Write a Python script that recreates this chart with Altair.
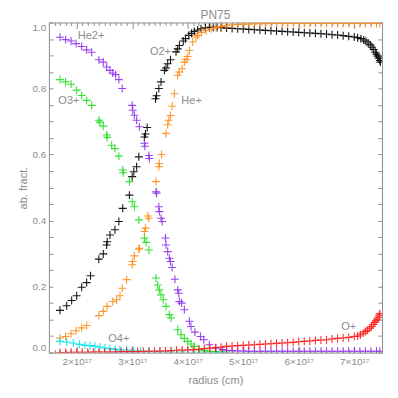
import altair as alt
import pandas as pd

# ---------------- data (radius in units of 1e17 cm, abundance fraction) ----------------
o2_r = [1.70,1.82,1.91,2.00,2.09, 2.18,2.25,2.40,2.48,2.54, 2.55,2.60,2.69,2.76,2.83,
        2.95,3.00,3.03,3.08,3.12, 3.22,3.24,3.27,3.42,3.44, 3.48,3.52,3.58,3.61,3.64,
        3.69,3.79,3.82,3.85,3.92, 3.96,4.02,4.07,4.12,4.18, 4.24,4.32,4.39,4.46,4.53,
        4.60,4.70,4.80,4.90,5.00, 5.10,5.20,5.30,5.40,5.50,5.60,5.70,5.80,5.90,6.00,
        6.10,6.20,6.30,6.40,6.50,6.60,6.70,6.80,6.90,7.00, 7.06,7.12,7.17,7.21,7.25,
        7.29,7.32,7.35,7.38,7.40, 7.42,7.44,7.46,7.47]
o2_f = [0.128,0.142,0.158,0.172,0.198, 0.212,0.233,0.283,0.299,0.326, 0.336,0.356,0.372,0.397,0.437,
        0.477,0.533,0.548,0.563,0.593, 0.653,0.662,0.682,0.769,0.778, 0.800,0.820,0.855,0.862,0.875,
        0.887,0.911,0.920,0.930,0.944, 0.951,0.961,0.967,0.973,0.977, 0.981,0.984,0.985,0.985,0.985,
        0.984,0.983,0.982,0.981,0.980, 0.979,0.978,0.977,0.976,0.975,0.974,0.973,0.972,0.971,0.970,
        0.969,0.968,0.967,0.966,0.965,0.963,0.962,0.960,0.958,0.956, 0.954,0.951,0.947,0.943,0.938,
        0.932,0.925,0.918,0.910,0.904, 0.898,0.892,0.885,0.880]

he1_r = [1.70,1.80,1.90,1.99,2.09, 2.18,2.40,2.48,2.55,2.65, 2.72,2.78,2.82,2.90,3.00,
         3.01,3.04,3.12,3.13,3.22, 3.24,3.28,3.30,3.43,3.48, 3.49,3.53,3.61,3.64,3.66,
         3.69,3.72,3.76,3.82,3.85, 3.90,3.94,3.97,4.00,4.03, 4.09,4.15,4.18,4.25,4.33,
         4.42,4.51,4.60,4.69,4.80, 4.90,5.00,5.10,5.20,5.30,5.40,5.50,5.60,5.70,5.80,
         5.90,6.00,6.10,6.20,6.30,6.40,6.50,6.60,6.70,6.80, 6.90,7.00,7.10,7.20,7.30,
         7.40,7.46]
he1_f = [0.044,0.049,0.057,0.066,0.075, 0.082,0.112,0.125,0.140,0.155, 0.160,0.172,0.195,0.221,0.266,
         0.276,0.293,0.313,0.316,0.367, 0.377,0.414,0.407,0.518,0.563, 0.573,0.600,0.664,0.690,0.704,
         0.718,0.746,0.784,0.840,0.850, 0.860,0.880,0.888,0.897,0.915, 0.941,0.956,0.961,0.970,0.976,
         0.981,0.985,0.988,0.991,0.993, 0.994,0.995,0.995,0.996,0.996,0.996,0.997,0.997,0.997,0.997,
         0.997,0.997,0.997,0.997,0.997,0.997,0.997,0.997,0.997,0.997, 0.997,0.997,0.997,0.997,0.997,
         0.997,0.997]

o3_r = [1.70,1.80,1.90,2.00,2.09, 2.18,2.27,2.40,2.42,2.48, 2.54,2.55,2.63,2.69,2.76,
        2.83,2.84,2.95,3.00,3.04, 3.12,3.22,3.25,3.30,3.43, 3.46,3.49,3.52,3.56,3.61,
        3.67,3.70,3.82,3.88,3.94, 4.00,4.06,4.12,4.21,4.30, 4.40,4.50,4.60,4.70]
o3_f = [0.827,0.820,0.813,0.795,0.779, 0.764,0.749,0.704,0.698,0.686, 0.659,0.652,0.628,0.618,0.595,
        0.553,0.545,0.518,0.457,0.442, 0.402,0.347,0.334,0.311,0.226, 0.205,0.190,0.175,0.160,0.140,
        0.115,0.105,0.069,0.054,0.043, 0.034,0.026,0.019,0.009,0.006, 0.004,0.003,0.002,0.002]

o4_r = [1.70,1.82,1.94,2.05,2.15,2.24,2.33,2.42,2.51,2.60,2.69,2.78,2.90,3.01,3.15,3.31,
        3.50,3.70,3.90,4.10,4.30,4.50]
o4_f = [0.034,0.032,0.029,0.025,0.022,0.021,0.019,0.017,0.014,0.012,0.010,0.009,0.008,0.007,
        0.005,0.004,0.003,0.002,0.002,0.001,0.001,0.001]

he2_r = [1.70,1.80,1.90,1.99,2.09, 2.18,2.27,2.40,2.48,2.54, 2.60,2.65,2.70,2.76,2.82,
         3.00,3.01,3.04,3.08,3.13, 3.22,3.23,3.30,3.31,3.43, 3.44,3.48,3.49,3.52,3.54,
         3.60,3.61,3.64,3.67,3.69, 3.72,3.77,3.82,3.84,3.85, 3.89,3.94,4.03,4.06,4.13,
         4.23,4.29,4.39,4.51,4.63, 4.70,4.80,4.90,5.00,5.10,5.20,5.30,5.40,5.50,5.60,
         5.70,5.80,5.90,6.00,6.10,6.20,6.30,6.40,6.50,6.60, 6.70,6.80,6.90,7.00,7.10,
         7.20,7.30,7.40,7.46]
he2_f = [0.955,0.948,0.944,0.936,0.927, 0.917,0.910,0.887,0.880,0.865, 0.855,0.847,0.842,0.827,0.800,
         0.749,0.734,0.719,0.704,0.684, 0.634,0.625,0.597,0.588,0.487, 0.483,0.442,0.427,0.407,0.397,
         0.347,0.326,0.306,0.286,0.276, 0.258,0.222,0.190,0.180,0.155, 0.150,0.130,0.095,0.079,0.062,
         0.049,0.039,0.024,0.014,0.009, 0.007,0.006,0.005,0.005,0.004,0.004,0.004,0.004,0.004,0.004,
         0.004,0.004,0.004,0.004,0.004,0.004,0.004,0.004,0.004,0.004, 0.004,0.004,0.004,0.004,0.004,
         0.004,0.004,0.004,0.004]

op_r = [1.70,1.80,1.90,2.00,2.10,2.20,2.30,2.40,2.50,2.60,
        2.70,2.80,2.90,3.00,3.10,3.20,3.30,3.40,3.50,3.60,
        3.70,3.80,3.90,4.00,4.10,4.20,4.30,4.40,4.50,4.60,
        4.70,4.80,4.90,5.00,5.10,5.20,5.30,5.40,5.50,5.60,
        5.70,5.80,5.90,6.00,6.10,6.20,6.30,6.40,6.50,6.60,
        6.70,6.80,6.90,7.00,
        7.06,7.11,7.16,7.20,7.24,7.28,7.31,7.34,7.37,7.39,7.41,7.43,7.45,7.46]
op_f = [0.000,0.000,0.001,0.001,0.001,0.001,0.002,0.002,0.002,0.002,
        0.002,0.003,0.003,0.003,0.003,0.004,0.004,0.004,0.005,0.005,
        0.006,0.007,0.008,0.008,0.009,0.010,0.012,0.013,0.015,0.016,
        0.019,0.020,0.021,0.022,0.023,0.024,0.025,0.026,0.027,0.028,
        0.029,0.030,0.031,0.033,0.034,0.035,0.037,0.038,0.039,0.041,
        0.043,0.044,0.046,0.049,
        0.050,0.054,0.059,0.064,0.068,0.074,0.079,0.085,0.091,0.096,0.101,0.107,0.113,0.118]

ions = ["O2+", "He+", "O3+", "O4+", "He2+", "O+"]
ion_colors = ["#000000", "#ff8c1a", "#1fe01f", "#00e8f0", "#9030f0", "#ff1a1a"]

ann_text = ["He2+", "O2+", "O3+", "He+", "O4+", "O+"]
ann_r = [2.26, 3.51, 1.86, 4.07, 2.76, 6.90]
ann_f = [0.958, 0.910, 0.761, 0.761, 0.041, 0.079]

x_ticks = [round(1.5 + 0.1 * i, 1) for i in range(61)]
y_ticks = [round(0.05 * i, 2) for i in range(21)]

# ---------------- build tables ----------------
rows = []
for name, rs, fs in zip(ions, [o2_r, he1_r, o3_r, o4_r, he2_r, op_r],
                        [o2_f, he1_f, o3_f, o4_f, he2_f, op_f]):
    for r, f in zip(rs, fs):
        rows.append({"ion": name, "r": r, "f": f})
df = pd.DataFrame(rows)
ann = pd.DataFrame({"label": ann_text, "r": ann_r, "f": ann_f})

grey = "#8c8c8c"
font = "Liberation Sans Narrow, Liberation Sans, sans-serif"
xs = alt.Scale(domain=[1.5, 7.5], nice=False, zero=False)
ys = alt.Scale(domain=[0, 1], nice=False, zero=False)
major = "abs(datum.value - round(datum.value)) < 0.01"

x_bottom = alt.Axis(values=x_ticks, tickSize=alt.ExprRef(expr=major + " ? -6 : -3"),
                    labelExpr=major + " ? round(datum.value) + '×10¹⁷' : ''",
                    labelPadding=10, labelFlush=False, labelOverlap=False, domain=False,
                    grid=False, tickColor=grey, labelColor=grey, labelFont=font, labelFontSize=10,
                    title="radius (cm)", titleColor=grey, titleFont=font, titleFontSize=11,
                    titleFontWeight="normal", titlePadding=5)
y_left = alt.Axis(values=y_ticks, tickSize=alt.ExprRef(expr="-4"),
                  labelExpr="round(datum.value * 20) % 4 == 0 ? format(datum.value, '.1f') : ''",
                  labelPadding=7, labelFlush=True, labelOverlap=False, domain=False, grid=False,
                  tickColor=grey, labelColor=grey, labelFont=font, labelFontSize=10,
                  title="ab. fract.", titleColor=grey, titleFont=font, titleFontSize=11,
                  titleFontWeight="normal", titlePadding=4)
x_top = alt.Axis(orient="top", values=x_ticks, tickSize=alt.ExprRef(expr=major + " ? -6 : -3"),
                 labels=False, domain=False, grid=False, tickColor=grey, title=None)
y_right = alt.Axis(orient="right", values=y_ticks, tickSize=alt.ExprRef(expr="-4"),
                   labels=False, domain=False, grid=False, tickColor=grey, title=None)

points = alt.Chart(df).mark_point(
    shape="M-1,0L1,0M0,-1L0,1", filled=False, size=64, strokeWidth=1.1, opacity=0.9, clip=True
).encode(
    x=alt.X("r:Q", scale=xs, axis=x_bottom),
    y=alt.Y("f:Q", scale=ys, axis=y_left),
    color=alt.Color("ion:N", scale=alt.Scale(domain=ions, range=ion_colors), legend=None),
)

frame = alt.Chart(df).mark_point(opacity=0, clip=True).encode(
    x=alt.X("r:Q", scale=xs, axis=x_top),
    y=alt.Y("f:Q", scale=ys, axis=y_right),
)

labels = alt.Chart(ann).mark_text(color=grey, font=font, fontSize=11).encode(
    x=alt.X("r:Q", scale=xs, axis=None),
    y=alt.Y("f:Q", scale=ys, axis=None),
    text="label:N",
)

chart = alt.layer(points, labels, frame).resolve_axis(
    x="independent", y="independent"
).properties(
    width=334, height=331,
    padding={"left": 41, "top": 14, "right": 8, "bottom": 40},
    autosize=alt.AutoSizeParams(type="none"),
    title=alt.TitleParams("PN75", color=grey, font=font, fontSize=12, fontWeight="normal",
                          offset=0, frame="group"),
).configure_view(stroke=grey, strokeWidth=1)

chart.save("out.html", embed_options={"renderer": "svg", "actions": False})
